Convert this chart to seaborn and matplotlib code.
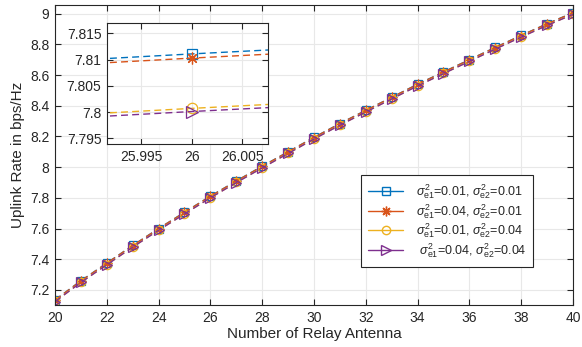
import numpy as np
import pandas as pd
import matplotlib
matplotlib.use("Agg")
import matplotlib.pyplot as plt
from matplotlib.lines import Line2D
import seaborn as sns

# ---------------- data ----------------
antennas = [20, 21, 22, 23, 24, 25, 26, 27, 28, 29, 30,
            31, 32, 33, 34, 35, 36, 37, 38, 39, 40]
rate_e1_001_e2_001 = [7.135, 7.260, 7.375, 7.490, 7.600, 7.706, 7.8111, 7.910, 8.006, 8.100, 8.194,
                      8.284, 8.370, 8.455, 8.540, 8.620, 8.700, 8.780, 8.858, 8.934, 9.006]
rate_e1_004_e2_001 = [7.134, 7.259, 7.374, 7.489, 7.599, 7.705, 7.8103, 7.909, 8.005, 8.099, 8.193,
                      8.283, 8.369, 8.454, 8.539, 8.619, 8.699, 8.779, 8.857, 8.933, 9.005]
rate_e1_001_e2_004 = [7.125, 7.250, 7.365, 7.480, 7.590, 7.696, 7.8007, 7.900, 7.996, 8.090, 8.184,
                      8.274, 8.360, 8.445, 8.530, 8.610, 8.690, 8.770, 8.848, 8.924, 8.996]
rate_e1_004_e2_004 = [7.124, 7.249, 7.364, 7.479, 7.589, 7.695, 7.8001, 7.899, 7.995, 8.089, 8.183,
                      8.273, 8.359, 8.444, 8.529, 8.609, 8.689, 8.769, 8.847, 8.923, 8.995]

labels = [r'$\sigma^2_{\mathrm{e1}}$=0.01, $\sigma^2_{\mathrm{e2}}$=0.01',
          r'$\sigma^2_{\mathrm{e1}}$=0.04, $\sigma^2_{\mathrm{e2}}$=0.01',
          r'$\sigma^2_{\mathrm{e1}}$=0.01, $\sigma^2_{\mathrm{e2}}$=0.04',
          r' $\sigma^2_{\mathrm{e1}}$=0.04, $\sigma^2_{\mathrm{e2}}$=0.04']
series = [rate_e1_001_e2_001, rate_e1_004_e2_001, rate_e1_001_e2_004, rate_e1_004_e2_004]
colors = ['#0072BD', '#D95319', '#EDB120', '#7E2F8E']
markers = ['s', (8, 2, 0), 'o', '>']
marker_sizes = [6, 7, 6, 7]

main_xticks = [20, 22, 24, 26, 28, 30, 32, 34, 36, 38, 40]
main_yticks = [7.2, 7.4, 7.6, 7.8, 8.0, 8.2, 8.4, 8.6, 8.8, 9.0]
inset_xticks = [25.995, 26.0, 26.005]
inset_yticks = [7.795, 7.8, 7.805, 7.81, 7.815]

# ---------------- style ----------------
sns.set_theme(style="white")
plt.rcParams['font.family'] = ['Liberation Sans', 'DejaVu Sans']
plt.rcParams['mathtext.fontset'] = 'custom'
plt.rcParams['mathtext.rm'] = 'Liberation Sans'
plt.rcParams['mathtext.it'] = 'Liberation Sans:italic'

fig = plt.figure(figsize=(5.82, 3.47), dpi=100)
ax = fig.add_axes([0.0945, 0.121, 0.890, 0.865])
axin = fig.add_axes([0.1838, 0.585, 0.2766, 0.3487])

grid_color = '#e8e8e8'
spine_color = '#262626'

def style_axes(a, fs=10):
    a.grid(True, color=grid_color, linewidth=0.8)
    a.set_axisbelow(True)
    for s in a.spines.values():
        s.set_color(spine_color)
        s.set_linewidth(0.8)
    a.tick_params(direction='in', length=4, width=0.8, colors=spine_color,
                  labelcolor='#262626', labelsize=fs, top=True, right=True,
                  bottom=True, left=True, pad=4)

for vals, c, m, ms in zip(series, colors, markers, marker_sizes):
    df = pd.DataFrame({'x': antennas, 'y': vals})
    sns.lineplot(data=df, x='x', y='y', ax=ax, color=c, marker=m, markersize=ms,
                 markerfacecolor='none', markeredgecolor=c, markeredgewidth=0.9,
                 linestyle=(0, (5, 3)), linewidth=1.0, legend=False)
    sns.lineplot(data=df, x='x', y='y', ax=axin, color=c, marker=m, markersize=ms + 1.5,
                 markerfacecolor='none', markeredgecolor=c, markeredgewidth=0.9,
                 linestyle=(0, (5, 3)), linewidth=1.0, legend=False)

ax.set_xlim(20, 40)
ax.set_ylim(7.102, 9.057)
ax.set_xticks(main_xticks)
ax.set_xticklabels([str(t) for t in main_xticks])
ax.set_yticks(main_yticks)
ax.set_yticklabels(['7.2', '7.4', '7.6', '7.8', '8', '8.2', '8.4', '8.6', '8.8', '9'])
ax.set_xlabel('Number of Relay Antenna', fontsize=11, color='#262626', labelpad=2)
ax.set_ylabel('Uplink Rate in bps/Hz', fontsize=11, color='#262626', labelpad=4)
style_axes(ax)

axin.set_xlim(25.9916, 26.00755)
axin.set_ylim(7.7939, 7.8170)
axin.set_xticks(inset_xticks)
axin.set_xticklabels(['25.995', '26', '26.005'])
axin.set_yticks(inset_yticks)
axin.set_yticklabels(['7.795', '7.8', '7.805', '7.81', '7.815'])
axin.set_xlabel('')
axin.set_ylabel('')
axin.set_facecolor('white')
style_axes(axin)

handles = [Line2D([0], [0], color=c, marker=m, markersize=ms, markerfacecolor='none',
                  markeredgecolor=c, linewidth=1.0)
           for c, m, ms in zip(colors, markers, marker_sizes)]
leg = ax.legend(handles, labels, loc='lower right', bbox_to_anchor=(0.923, 0.127),
                borderaxespad=0, fontsize=9, frameon=True, fancybox=False,
                edgecolor='#262626', framealpha=1, handlelength=2.8,
                labelspacing=0.08, borderpad=0.55, handletextpad=1.0)
leg.get_frame().set_linewidth(0.8)

fig.savefig('out.png', dpi=100)
